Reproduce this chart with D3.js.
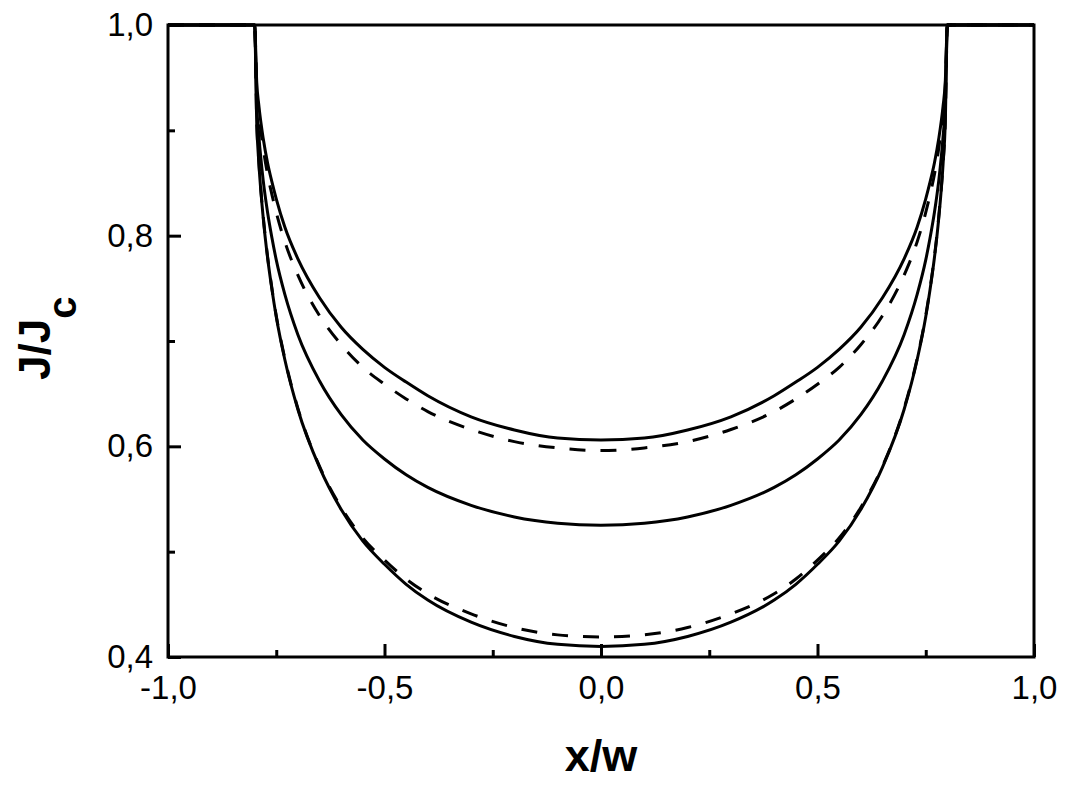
<!DOCTYPE html>
<html>
<head>
<meta charset="utf-8">
<script src="https://cdn.jsdelivr.net/npm/d3@7"></script>
<style>
  body { margin: 0; background: #fff; }
  text { font-family: "Liberation Sans", Arial, sans-serif; fill: #000; }
</style>
</head>
<body>
<script>
// x positions (x/w) shared by every curve
var xVals = [-1, -0.8, -0.795, -0.79, -0.78, -0.77, -0.76, -0.75, -0.73, -0.7, -0.65, -0.6, -0.55, -0.5, -0.45, -0.4, -0.3, -0.2, -0.1,
  0,
  0.1, 0.2, 0.3, 0.4, 0.45, 0.5, 0.55, 0.6, 0.65, 0.7, 0.73, 0.75, 0.76, 0.77, 0.78, 0.79, 0.795, 0.8, 1];

// J/Jc
var topSolid = [1.0, 1.0, 0.945, 0.923, 0.892, 0.869, 0.851, 0.835, 0.808, 0.778, 0.741, 0.713, 0.692, 0.675, 0.661, 0.648, 0.628, 0.6155, 0.6078,
  0.606,
  0.6078, 0.6155, 0.628, 0.648, 0.661, 0.675, 0.692, 0.713, 0.741, 0.778, 0.808, 0.835, 0.851, 0.869, 0.892, 0.923, 0.945, 1.0, 1.0];
var topDashed = [1.0, 1.0, 0.940, 0.916, 0.883, 0.858, 0.839, 0.822, 0.794, 0.7625, 0.724, 0.6965, 0.675, 0.659, 0.645, 0.633, 0.616, 0.6045, 0.5985,
  0.596,
  0.5985, 0.6045, 0.616, 0.633, 0.645, 0.659, 0.675, 0.6965, 0.724, 0.7625, 0.794, 0.822, 0.839, 0.858, 0.883, 0.916, 0.940, 1.0, 1.0];
var midSolid = [1.0, 1.0, 0.924, 0.894, 0.852, 0.822, 0.798, 0.777, 0.744, 0.706, 0.662, 0.630, 0.606, 0.588, 0.573, 0.561, 0.544, 0.533, 0.527,
  0.525,
  0.527, 0.533, 0.544, 0.561, 0.573, 0.588, 0.606, 0.630, 0.662, 0.706, 0.744, 0.777, 0.798, 0.822, 0.852, 0.894, 0.924, 1.0, 1.0];
var lowDashed = [1.0, 1.0, 0.907, 0.869, 0.818, 0.780, 0.750, 0.724, 0.683, 0.636, 0.581, 0.542, 0.513, 0.492, 0.474, 0.460, 0.441, 0.428, 0.421,
  0.419,
  0.421, 0.428, 0.441, 0.460, 0.474, 0.492, 0.513, 0.542, 0.581, 0.636, 0.683, 0.724, 0.750, 0.780, 0.818, 0.869, 0.907, 1.0, 1.0];
var lowSolid = [1.0, 1.0, 0.906, 0.868, 0.8165, 0.779, 0.749, 0.723, 0.682, 0.635, 0.580, 0.540, 0.510, 0.488, 0.469, 0.454, 0.433, 0.4195, 0.412,
  0.410,
  0.412, 0.4195, 0.433, 0.454, 0.469, 0.488, 0.510, 0.540, 0.580, 0.635, 0.682, 0.723, 0.749, 0.779, 0.8165, 0.868, 0.906, 1.0, 1.0];

var xMajor = [-1, -0.5, 0, 0.5, 1];
var xMinor = [-0.75, -0.25, 0.25, 0.75];
var yMajor = [0.4, 0.6, 0.8, 1.0];
var yMinor = [0.5, 0.7, 0.9];

var series = [
  {values: topSolid, dashed: false},
  {values: topDashed, dashed: true},
  {values: midSolid, dashed: false},
  {values: lowDashed, dashed: true},
  {values: lowSolid, dashed: false}
];

var margin = {top: 25, right: 33, bottom: 130, left: 168};
var width = 1067 - margin.left - margin.right;
var height = 787 - margin.top - margin.bottom;

var svg = d3.select("body").append("svg")
    .attr("width", 1067)
    .attr("height", 787)
  .append("g")
    .attr("transform", "translate(" + margin.left + "," + margin.top + ")");

var x = d3.scaleLinear().domain([-1, 1]).range([0, width]);
var y = d3.scaleLinear().domain([0.4, 1.0]).range([height, 0]);

// comma decimal, plain hyphen minus
var fmt = d3.formatLocale({decimal: ",", thousands: ".", grouping: [3], currency: ["", ""], minus: "-"}).format(".1f");

// curves
var line = d3.line()
    .x(function(d, i) { return x(xVals[i]); })
    .y(function(d) { return y(d); })
    .curve(d3.curveMonotoneX);

svg.selectAll(".curve")
    .data(series)
  .enter().append("path")
    .attr("class", "curve")
    .attr("d", function(d) { return line(d.values); })
    .attr("fill", "none")
    .attr("stroke", "#000")
    .attr("stroke-width", 3)
    .attr("stroke-dasharray", function(d) { return d.dashed ? "16,15" : null; });

// x axis, ticks pointing inward
svg.append("g")
    .attr("transform", "translate(0," + height + ")")
    .call(d3.axisBottom(x).tickValues(xMajor).tickFormat(fmt).tickSizeInner(-13).tickSizeOuter(0).tickPadding(19));
svg.append("g")
    .attr("transform", "translate(0," + height + ")")
    .call(d3.axisBottom(x).tickValues(xMinor).tickFormat("").tickSizeInner(-7).tickSizeOuter(0));

// y axis
svg.append("g")
    .call(d3.axisLeft(y).tickValues(yMajor).tickFormat(fmt).tickSizeInner(-13).tickSizeOuter(0).tickPadding(15));
svg.append("g")
    .call(d3.axisLeft(y).tickValues(yMinor).tickFormat("").tickSizeInner(-7).tickSizeOuter(0));

svg.selectAll(".domain").remove();
svg.selectAll(".tick line").attr("stroke", "#000").attr("stroke-width", 3);
svg.selectAll(".tick text")
    .style("font-family", "'Liberation Sans', Arial, sans-serif")
    .style("font-size", "33px")
    .attr("fill", "#000");

// frame
svg.append("rect")
    .attr("width", width)
    .attr("height", height)
    .attr("fill", "none")
    .attr("stroke", "#000")
    .attr("stroke-width", 3);

// axis titles
svg.append("text")
    .attr("x", width / 2)
    .attr("y", height + 114)
    .attr("text-anchor", "middle")
    .style("font-size", "45px")
    .style("font-weight", "bold")
    .text("x/w");

var yt = svg.append("text")
    .attr("transform", "translate(" + (50 - margin.left) + "," + (380 - margin.top) + ") rotate(-90)")
    .style("font-size", "44px")
    .style("font-weight", "bold");
yt.append("tspan").text("J/J");
yt.append("tspan").attr("dy", 26).style("font-size", "40px").text("c");
</script>
</body>
</html>
